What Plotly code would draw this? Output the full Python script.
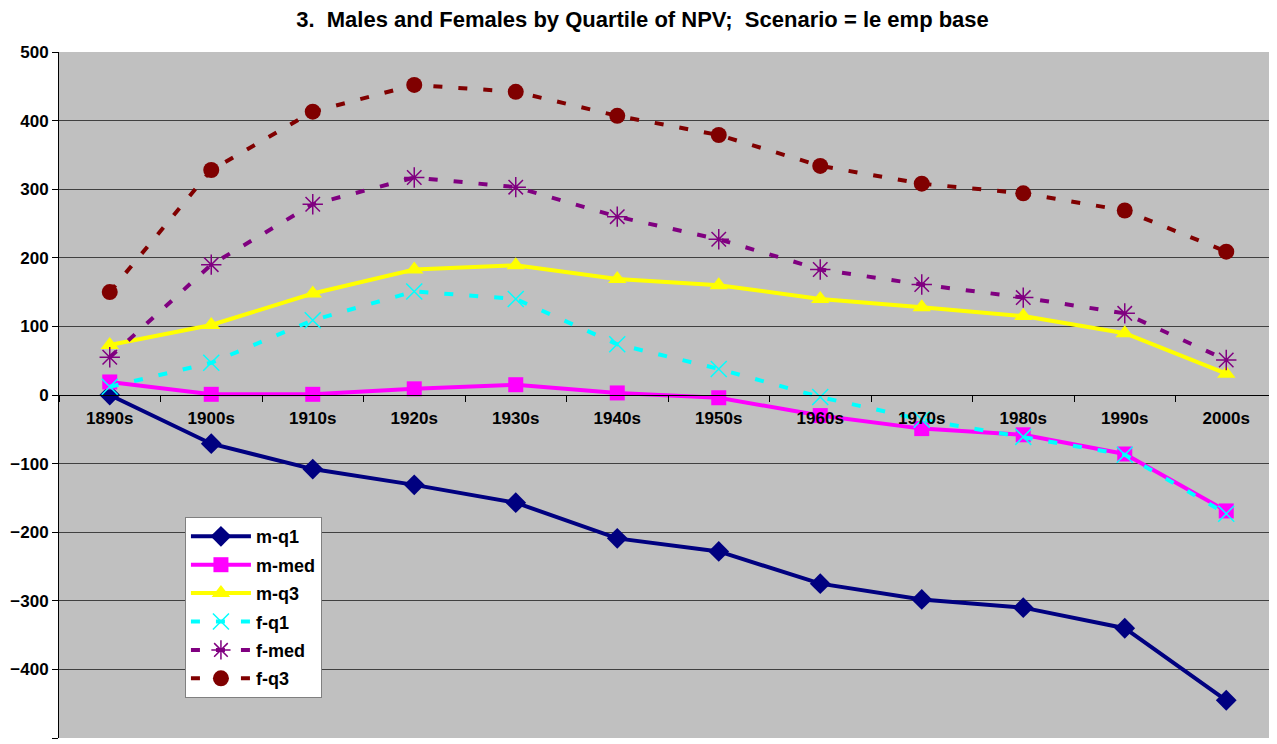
import plotly.graph_objects as go

decades = ["1890s", "1900s", "1910s", "1920s", "1930s", "1940s", "1950s", "1960s", "1970s", "1980s", "1990s", "2000s"]

m_q1 = [0, -71, -108, -131, -157, -209, -228, -275, -298, -310, -340, -445]
m_med = [19, 1, 1, 9, 15, 3, -4, -30, -49, -58, -86, -169]
m_q3 = [73, 102, 148, 183, 189, 169, 160, 140, 128, 115, 90, 31]
f_q1 = [12, 47, 109, 151, 140, 74, 38, -3, -36, -61, -87, -173]
f_med = [55, 190, 278, 317, 303, 260, 227, 183, 161, 142, 119, 51]
f_q3 = [150, 328, 413, 452, 442, 407, 379, 334, 308, 294, 269, 209]

DASH = "9px,16px"
series = [
    ("m-q1", m_q1, "#000080", "solid", "diamond", 16, 4),
    ("m-med", m_med, "#FF00FF", "solid", "square", 15, 4),
    ("m-q3", m_q3, "#FFFF00", "solid", "triangle-up", 16, 4),
    ("f-q1", f_q1, "#00FFFF", DASH, "x-thin-open", 16, 4),
    ("f-med", f_med, "#800080", DASH, "asterisk-open", 17, 4),
    ("f-q3", f_q3, "#800000", DASH, "circle", 16, 4),
]

fig = go.Figure()
for i, (name, vals, color, dash, sym, size, width) in enumerate(series):
    fig.add_trace(go.Scatter(
        x=decades, y=vals, name=name, mode="lines+markers",
        legendgroup=f"g{i}",
        line=dict(color=color, width=width, dash=dash),
        marker=dict(symbol=sym, size=size, color=color,
                    line=dict(color=color, width=1.5 if "open" in sym else 0)),
    ))

FONT = "Liberation Sans, Arial, sans-serif"
fig.update_layout(
    width=1269, height=736,
    margin=dict(l=51, r=0, t=44, b=6),
    paper_bgcolor="white",
    plot_bgcolor="#C0C0C0",
    font=dict(family=FONT, size=17, color="black"),
    title=dict(
        text="<b>3.  Males and Females by Quartile of NPV;  Scenario = le emp base</b>",
        x=0.5, xanchor="center", y=0.985, yanchor="middle",
        font=dict(size=22, color="black", family=FONT),
    ),
    showlegend=True,
    legend=dict(
        x=0.1034, y=0.322, xanchor="left", yanchor="top",
        bgcolor="white", bordercolor="#808080", borderwidth=1,
        font=dict(size=18, color="black", family=FONT, weight="bold"),
        tracegroupgap=2, itemwidth=60,
        entrywidth=95, entrywidthmode="pixels",
    ),
    xaxis=dict(
        type="category", anchor="free", position=0.5,
        showline=True, linecolor="black", linewidth=1,
        ticks="outside", ticklen=6, tickcolor="black", tickson="boundaries",
        ticklabelstandoff=8,
        showgrid=False,
        tickfont=dict(size=17, weight="bold", family=FONT),
        range=[-0.5, 11.5],
    ),
    yaxis=dict(
        range=[-500, 500], dtick=100,
        showgrid=True, gridcolor="#404040", gridwidth=1,
        zeroline=True, zerolinecolor="#202020", zerolinewidth=1,
        showline=True, linecolor="black", linewidth=1,
        ticks="outside", ticklen=6, tickcolor="black",
        tickfont=dict(size=17, weight="bold", family=FONT),
    ),
)

fig.write_html("out.html")
